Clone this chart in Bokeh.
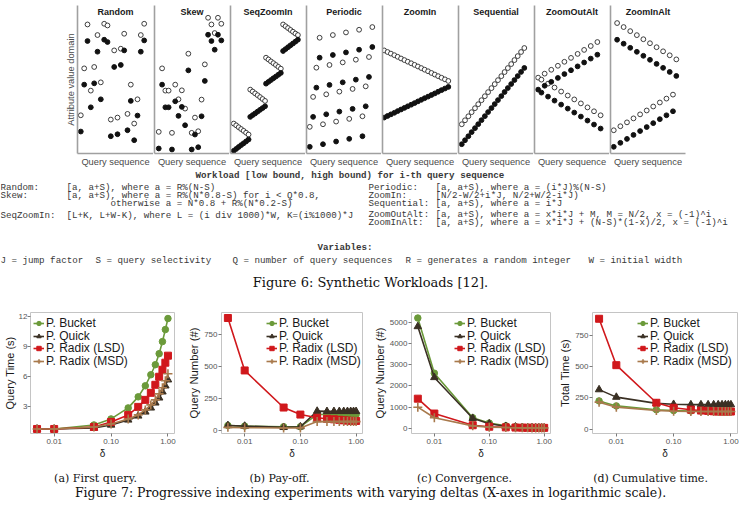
from bokeh.core.properties import value
from bokeh.embed import file_html
from bokeh.layouts import column, row
from bokeh.models import FixedTicker, Label, Legend, LegendItem, PrintfTickFormatter, Range1d
from bokeh.plotting import figure
from bokeh.resources import INLINE

SANS = "Liberation Sans"
MONO = "Liberation Mono"
SERIF = "DejaVu Serif"

# ---------------------------------------------------------------------------
# Figure 6: synthetic workloads (query position, low bound, high bound)
# ---------------------------------------------------------------------------
random_x = [10.0, 26.7, 30.0, 66.7, 20.0, 46.7, 63.3, 36.7, 43.3, 6.7,
            16.7, 23.3, 13.3, 53.3, 3.3, 33.3, 40.0, 50.0, 60.0, 56.7]
random_lo = [112.7, 114.0, 111.7, 113.3, 102.0, 103.3, 102.0, 86.7, 88.7, 69.0,
             70.3, 54.3, 46.3, 52.7, 22.0, 17.3, 19.3, 23.3, 38.0, 13.3]
random_hi = [129.3, 130.0, 128.3, 130.0, 118.7, 120.0, 118.7, 103.3, 105.0, 85.3,
             86.7, 71.3, 63.0, 69.0, 38.3, 34.0, 36.0, 39.7, 54.3, 30.0]

skew_x = [54.3, 57.7, 64.3, 67.7, 61.0, 34.3, 51.0, 7.7, 11.0, 14.3,
          21.0, 27.7, 24.3, 31.0, 47.7, 41.0, 4.3, 17.7, 37.7, 44.3]
skew_lo = [119.0, 112.7, 119.0, 113.3, 104.0, 83.3, 72.7, 69.0, 46.3, 46.3,
           52.3, 46.7, 37.7, 28.3, 37.3, 19.0, 5.0, 4.0, 4.0, 6.3]
skew_hi = [136.0, 129.3, 136.0, 130.0, 120.7, 100.0, 89.3, 85.3, 63.0, 63.0,
           69.0, 63.3, 54.3, 45.0, 54.0, 36.0, 21.7, 20.7, 20.7, 22.3]

seqzoom_x = [3.3, 5.8, 8.3, 10.8, 13.3, 15.8, 18.3,
             20.0, 22.5, 25.0, 27.5, 30.0, 32.5, 35.0,
             36.0, 38.5, 41.0, 43.5, 46.0, 48.5, 51.0,
             53.3, 55.8, 58.3, 60.8, 63.3, 65.8, 68.3]
seqzoom_lo = [2.7, 4.6, 6.5, 8.4, 10.2, 12.1, 14.0,
              36.7, 38.5, 40.2, 42.0, 43.8, 45.5, 47.3,
              70.0, 71.8, 73.6, 75.4, 77.1, 78.9, 80.7,
              102.7, 104.6, 106.5, 108.4, 110.2, 112.1, 114.0]
seqzoom_hi = [30.0, 28.2, 26.3, 24.5, 22.7, 20.8, 19.0,
              64.0, 62.1, 60.2, 58.4, 56.5, 54.6, 52.7,
              96.0, 94.2, 92.3, 90.5, 88.7, 86.8, 85.0,
              129.3, 127.5, 125.7, 123.8, 122.0, 120.2, 118.7]

periodic_x = [3.3, 6.7, 10.0, 13.3, 16.7, 20.0, 23.3, 26.7, 30.0, 33.3,
              36.7, 40.0, 43.3, 46.7, 50.0, 53.3, 56.7, 60.0, 63.3, 66.7]
periodic_lo = [6.7, 36.7, 66.0, 96.0, 9.3, 39.3, 68.7, 98.7, 12.0, 42.0,
               71.3, 101.3, 14.7, 44.7, 74.0, 104.0, 17.3, 47.3, 76.7, 106.7]
periodic_hi = [26.7, 56.7, 86.0, 116.0, 29.3, 59.3, 88.7, 118.7, 32.0, 62.0,
               91.3, 121.3, 34.7, 64.7, 94.0, 124.0, 37.3, 67.3, 96.7, 126.7]

zoomin_x = [1.7, 5.1, 8.5, 12.0, 15.4, 18.8, 22.2, 25.6, 29.1, 32.5,
            35.9, 39.3, 42.7, 46.2, 49.6, 53.0, 56.4, 59.8, 63.3, 66.7]
zoomin_lo = [36.0, 37.6, 39.2, 40.8, 42.5, 44.1, 45.7, 47.3, 48.9, 50.5,
             52.2, 53.8, 55.4, 57.0, 58.6, 60.2, 61.9, 63.5, 65.1, 66.7]
zoomin_hi = [103.3, 101.7, 100.1, 98.5, 96.9, 95.2, 93.6, 92.0, 90.4, 88.8,
             87.2, 85.6, 84.0, 82.4, 80.7, 79.1, 77.5, 75.9, 74.3, 72.7]

sequential_x = [3.3, 6.6, 10.0, 13.3, 16.7, 20.0, 23.3, 26.7, 30.0, 33.4,
                36.7, 40.0, 43.4, 46.7, 50.0, 53.4, 56.7, 60.0, 63.4, 66.7]
sequential_lo = [9.3, 13.3, 17.3, 21.4, 25.4, 29.4, 33.4, 37.4, 41.5, 45.5,
                 49.5, 53.5, 57.5, 61.6, 65.6, 69.6, 73.6, 77.6, 81.7, 85.7]
sequential_hi = [29.3, 33.3, 37.3, 41.4, 45.4, 49.4, 53.4, 57.4, 61.5, 65.5,
                 69.5, 73.5, 77.5, 81.6, 85.6, 89.6, 93.6, 97.6, 101.7, 105.7]

zoomoutalt_x = [3.7, 7.0, 10.3, 13.7, 17.0, 20.3, 23.7, 27.0, 30.3, 33.7,
                37.0, 40.3, 43.7, 47.0, 50.3, 53.7, 57.0, 60.3, 63.7, 67.0]
zoomoutalt_lo = [64.0, 61.0, 67.9, 57.0, 71.8, 53.0, 75.7, 49.0, 79.6, 45.0,
                 83.4, 41.0, 87.3, 37.0, 91.2, 33.0, 95.1, 29.0, 99.0, 25.0]
zoomoutalt_hi = [76.0, 74.0, 80.0, 70.0, 83.9, 66.1, 87.9, 62.1, 91.9, 58.1,
                 95.8, 54.2, 99.8, 50.2, 103.8, 46.2, 107.7, 42.3, 111.7, 38.3]

zoominalt_x = [3.3, 6.7, 10.0, 13.3, 16.7, 20.0, 23.3, 26.7, 30.0, 33.3,
               36.7, 40.0, 43.3, 46.7, 50.0, 53.3, 56.7, 60.0, 63.3, 66.7]
zoominalt_lo = [6.7, 114.0, 10.7, 110.0, 14.6, 105.9, 18.6, 101.9, 22.5, 97.9,
                26.5, 93.9, 30.4, 89.8, 34.4, 85.8, 38.3, 81.7, 42.3, 77.7]
zoominalt_hi = [23.3, 130.7, 27.3, 126.7, 31.2, 122.6, 35.2, 118.6, 39.2, 114.5,
                43.1, 110.5, 47.1, 106.5, 51.1, 102.4, 55.0, 98.4, 59.0, 94.3]

workloads = [
    ("Random", random_x, random_lo, random_hi),
    ("Skew", skew_x, skew_lo, skew_hi),
    ("SeqZoomIn", seqzoom_x, seqzoom_lo, seqzoom_hi),
    ("Periodic", periodic_x, periodic_lo, periodic_hi),
    ("ZoomIn", zoomin_x, zoomin_lo, zoomin_hi),
    ("Sequential", sequential_x, sequential_lo, sequential_hi),
    ("ZoomOutAlt", zoomoutalt_x, zoomoutalt_lo, zoomoutalt_hi),
    ("ZoomInAlt", zoominalt_x, zoominalt_lo, zoominalt_hi),
]

# Workload definitions (monospace listing)
def_head = "Workload     [low bound, high bound) for i-th query sequence"
def_left_names = ["Random:", "Skew:", "SeqZoomIn:"]
def_left_rules = ["[a, a+S), where a = R%(N-S)",
                  "[a, a+S), where a = R%(N*0.8-S) for i < Q*0.8,",
                  "[L+K, L+W-K), where L = (i div 1000)*W, K=(i%1000)*J"]
def_left_extra = "otherwise a = N*0.8 + R%(N*0.2-S)"
def_right_names = ["Periodic:", "ZoomIn:", "Sequential:", "ZoomOutAlt:", "ZoomInAlt:"]
def_right_rules = ["[a, a+S), where a = (i*J)%(N-S)",
                   "[N/2-W/2+i*J, N/2+W/2-i*J)",
                   "[a, a+S), where a = i*J",
                   "[a, a+S), where a = x*i*J + M, M = N/2, x = (-1)^i",
                   "[a, a+S), where a = x*i*J + (N-S)*(1-x)/2, x = (-1)^i"]
var_head = "Variables:"
var_items = ["J = jump factor", "S = query selectivity", "Q = number of query sequences",
             "R = generates a random integer", "W = initial width"]

# ---------------------------------------------------------------------------
# Figure 7: progressive indexing with varying delta
# ---------------------------------------------------------------------------
delta = [0.005, 0.01, 0.05, 0.1, 0.2, 0.3, 0.4, 0.5, 0.6, 0.7, 0.8, 0.9, 1.0]

first_bucket = [0.8, 0.8, 1.2, 1.8, 2.9, 4.0, 5.1, 6.2, 7.2, 8.3, 9.5, 10.7, 11.8]
first_quick = [0.8, 0.8, 0.9, 1.2, 1.7, 2.1, 2.5, 2.9, 3.4, 3.9, 4.5, 5.1, 5.7]
first_lsd = [0.8, 0.8, 1.0, 1.5, 2.2, 3.0, 3.7, 4.4, 5.2, 6.0, 6.7, 7.4, 8.1]
first_msd = [0.8, 0.8, 1.0, 1.3, 1.8, 2.2, 2.7, 3.2, 3.7, 4.3, 4.9, 5.6, 6.3]

payoff_bucket = [40, 35, 30, 30, 125, 125, 125, 125, 125, 125, 125, 125, 125]
payoff_quick = [40, 35, 25, 30, 152, 150, 150, 150, 150, 150, 150, 150, 150]
payoff_lsd = [880, 470, 180, 125, 100, 92, 88, 84, 80, 78, 76, 75, 75]
payoff_msd = [25, 22, 20, 20, 70, 70, 70, 70, 70, 70, 70, 70, 70]

conv_bucket = [5200, 2600, 500, 250, 120, 80, 60, 50, 40, 40, 30, 30, 30]
conv_quick = [4800, 2400, 480, 220, 100, 70, 50, 40, 35, 30, 30, 25, 25]
conv_lsd = [1400, 700, 150, 80, 50, 40, 35, 30, 30, 25, 25, 25, 25]
conv_msd = [1000, 500, 120, 60, 40, 30, 25, 25, 20, 20, 20, 20, 20]

cum_bucket = [225, 185, 155, 148, 145, 145, 145, 145, 145, 145, 145, 145, 145]
cum_quick = [315, 255, 205, 198, 195, 195, 195, 195, 195, 195, 195, 195, 195]
cum_lsd = [880, 510, 210, 170, 155, 148, 145, 142, 140, 140, 140, 140, 140]
cum_msd = [215, 175, 148, 142, 140, 140, 140, 140, 140, 140, 140, 140, 140]

series_names = ["P. Bucket", "P. Quick", "P. Radix (LSD)", "P. Radix (MSD)"]
series_colors = ["#6b9a3a", "#3a3024", "#d0181c", "#a8794c"]
series_markers = ["circle", "triangle", "square", "cross"]
series_sizes = [6.5, 7.5, 7, 9]

captions = ["(a) First query.", "(b) Pay-off.", "(c) Convergence.", "(d) Cumulative time."]


# ---------------------------------------------------------------------------
def workload_panel(name, xs, lo, hi, width, left, right, ylabel=None):
    p = figure(width=width, height=170, x_range=Range1d(0, 76), y_range=Range1d(0, 148.3),
               min_border_left=left, min_border_right=right, min_border_top=5,
               min_border_bottom=17, output_backend="svg", toolbar_location=None)
    p.grid.visible = False
    p.outline_line_color = None
    for ax in (p.xaxis[0], p.yaxis[0]):
        ax.ticker = FixedTicker(ticks=[])
        ax.major_tick_in = 0
        ax.major_tick_out = 0
        ax.minor_tick_in = 0
        ax.minor_tick_out = 0
        ax.major_label_standoff = 0
        ax.major_label_text_font_size = "0px"
        ax.axis_line_color = "#a0a0a0"
        ax.axis_line_width = 1.6
        ax.axis_label_text_font = SANS
        ax.axis_label_text_font_style = "normal"
        ax.axis_label_text_font_size = "9.3px"
        ax.axis_label_text_color = "#4a4a4a"
        ax.axis_label_standoff = 3
    p.xaxis.axis_label = "Query sequence"
    if ylabel:
        p.yaxis.axis_label = ylabel
        p.yaxis.axis_label_standoff = 2
    p.scatter(xs, hi, marker="circle", size=4.8, fill_color="white",
              line_color="#2a2a2a", line_width=0.9)
    p.scatter(xs, lo, marker="circle", size=4.8, fill_color="#111111", line_color="#111111")
    p.add_layout(Label(x=38, y=141.6, text=name, text_align="center", text_baseline="middle",
                       text_font=SANS, text_font_style="bold", text_font_size="9px",
                       text_color="#1a1a1a"))
    return p


panels = []
for i, (name, xs, lo, hi) in enumerate(workloads):
    if i == 0:
        panels.append(workload_panel(name, xs, lo, hi, 153, 77, 0, "Attribute value domain"))
    elif i == len(workloads) - 1:
        panels.append(workload_panel(name, xs, lo, hi, 132, 1, 56))
    else:
        panels.append(workload_panel(name, xs, lo, hi, 76, 1, 0))

# ---- workload definition listing ----
txt = figure(width=741, height=130, x_range=Range1d(0, 741), y_range=Range1d(130, 0),
             x_axis_type=None, y_axis_type=None, min_border=0,
             output_backend="svg", toolbar_location=None)
txt.outline_line_color = None
mono_style = dict(text_font=value(MONO), text_font_size="9.2px", text_baseline="middle",
                  text_color="#383838")
txt.text(x=[195], y=[5], text=[def_head], text_font_style="bold", **mono_style)
txt.text(x=[0, 0, 0], y=[17, 25, 45], text=def_left_names, **mono_style)
txt.text(x=[66, 66, 66], y=[17, 25, 45], text=def_left_rules, **mono_style)
txt.text(x=[110], y=[33], text=[def_left_extra], **mono_style)
txt.text(x=[368] * 5, y=[17, 25, 33, 44, 52], text=def_right_names, **mono_style)
txt.text(x=[435] * 5, y=[17, 25, 33, 44, 52], text=def_right_rules, **mono_style)
txt.text(x=[317], y=[77], text=[var_head], text_font_style="bold", **mono_style)
txt.text(x=[0, 95, 232, 405, 588], y=[90] * 5, text=var_items, **mono_style)
txt.text(x=[370], y=[112], text=["Figure 6: Synthetic Workloads [12]."],
         text_font=value(SERIF), text_font_size="13px", text_align="center",
         text_baseline="middle", text_color="#111111")

# ---- Figure 7 charts ----
X0, X1 = 10 ** -2.416, 10 ** 0.115
LEGEND_ROWS_Y = [103.0, 90.5, 78.0, 65.5]   # bottom edge of each legend row, px above frame bottom


def delta_chart(values, y_lo, y_hi, yticks, ylabel, width, left, right, legend_x,
                tight=False):
    p = figure(width=width, height=165, x_axis_type="log", x_range=Range1d(X0, X1),
               y_range=Range1d(y_lo, y_hi), min_border_left=left, min_border_right=right,
               min_border_top=12, min_border_bottom=32,
               output_backend="svg", toolbar_location=None)
    p.grid.visible = False
    p.outline_line_color = "#c4c4c4"
    p.outline_line_width = 1
    p.xaxis.ticker = FixedTicker(ticks=[0.01, 0.1, 1.0], minor_ticks=[])
    p.xaxis.formatter = PrintfTickFormatter(format="%.2f")
    p.yaxis.ticker = FixedTicker(ticks=yticks, minor_ticks=[])
    for ax in (p.xaxis[0], p.yaxis[0]):
        ax.axis_line_color = None
        ax.major_tick_line_color = "#7a7a7a"
        ax.major_tick_in = 0
        ax.major_tick_out = 3
        ax.minor_tick_line_color = None
        ax.major_label_standoff = 1
        ax.major_label_text_font = SANS
        ax.major_label_text_font_size = "8px"
        ax.major_label_text_color = "#555555"
        ax.axis_label_text_font = SANS
        ax.axis_label_text_font_style = "normal"
        ax.axis_label_text_color = "#1a1a1a"
        ax.axis_label_standoff = 1
    p.xaxis.axis_label = "δ"
    p.xaxis.axis_label_text_font_size = "10px"
    p.xaxis.major_label_standoff = 2
    p.yaxis.axis_label = ylabel
    p.yaxis.axis_label_text_font_size = "11.3px"
    if tight:
        # narrow left margin: pack the y-axis title against its tick labels
        p.yaxis.major_label_standoff = 0
        p.yaxis.axis_label_standoff = 0
        p.yaxis.axis_label_text_font_size = "11px"
    for ys, name, color, marker, size, row_y in zip(values, series_names, series_colors,
                                                    series_markers, series_sizes,
                                                    LEGEND_ROWS_Y):
        ln = p.line(delta, ys, line_color=color, line_width=1.6)
        mk = p.scatter(delta, ys, marker=marker, size=size, fill_color=color,
                       line_color=color, line_width=1.6 if marker == "cross" else 1)
        # one single-row legend per series keeps the row pitch tight
        p.add_layout(Legend(items=[LegendItem(label=name, renderers=[ln, mk])],
                            location=(legend_x, row_y), label_text_font=SANS,
                            label_text_font_size="12px", label_text_color="#1a1a1a",
                            glyph_width=11, glyph_height=12, label_height=12,
                            label_standoff=2, padding=0, margin=0,
                            border_line_color=None, background_fill_alpha=0))
    return p


c1 = delta_chart([first_bucket, first_quick, first_lsd, first_msd], 0.35, 12.4,
                 [3, 6, 9, 12], "Query Time (s)", 185, 24, 11, 3, tight=True)
c2 = delta_chart([payoff_bucket, payoff_quick, payoff_lsd, payoff_msd], -23, 923,
                 [0, 250, 500, 750], "Query Number (#)", 185, 32, 8, 45)
c3 = delta_chart([conv_bucket, conv_quick, conv_lsd, conv_msd], -240, 5460,
                 [0, 1000, 2000, 3000, 4000, 5000], "Query Number (#)", 185, 37, 5, 43)
c4 = delta_chart([cum_bucket, cum_quick, cum_lsd, cum_msd], -35, 930,
                 [0, 250, 500, 750], "Total Time (s)", 186, 37, 4, 45)

# ---- captions ----
cap = figure(width=741, height=48, x_range=Range1d(0, 741), y_range=Range1d(48, 0),
             x_axis_type=None, y_axis_type=None, min_border=0,
             output_backend="svg", toolbar_location=None)
cap.outline_line_color = None
cap.text(x=[95, 279, 464, 650], y=[13] * 4, text=captions, text_font=value(SERIF),
         text_font_size="11px", text_align="center", text_baseline="middle",
         text_color="#111111")
cap.text(x=[370], y=[27],
         text=["Figure 7: Progressive indexing experiments with varying deltas "
               "(X-axes in logarithmic scale)."],
         text_font=value(SERIF), text_font_size="12.5px", text_align="center",
         text_baseline="middle", text_color="#111111")

root = column(row(*panels), txt, row(c1, c2, c3, c4), cap)
open("out.html", "w").write(file_html(root, INLINE))
